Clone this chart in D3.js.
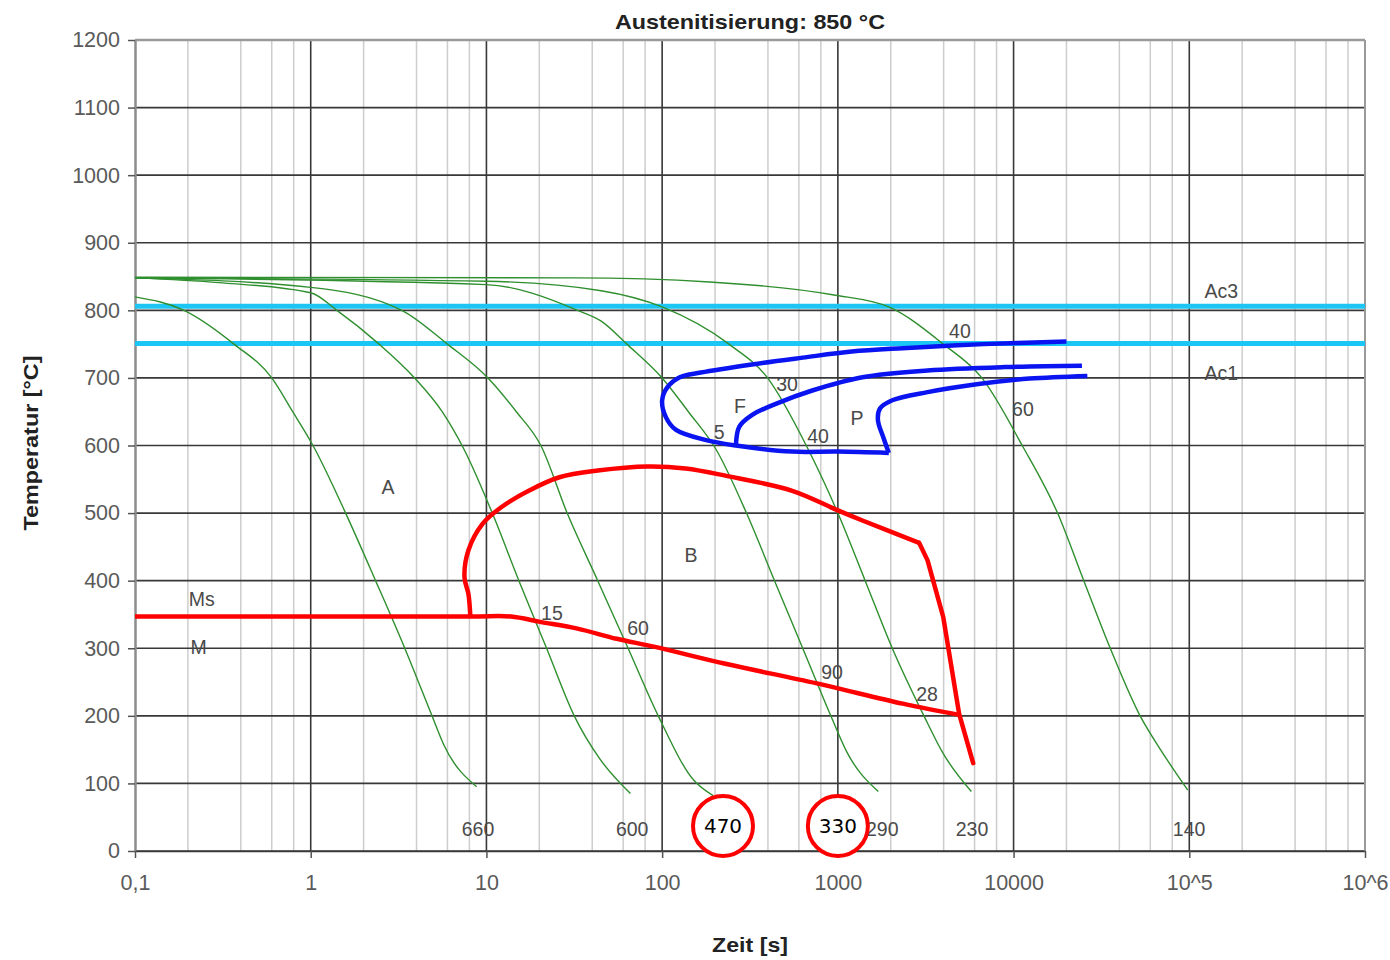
<!DOCTYPE html>
<html>
<head>
<meta charset="utf-8">
<script src="https://cdn.jsdelivr.net/npm/d3@7"></script>
<style>
  body { margin: 0; background: #fff; }
  svg { display: block; font-family: "Liberation Sans", Arial, sans-serif; }
</style>
</head>
<body>
<svg id="chart" width="1390" height="960"></svg>
<script>
// axis ticks
const yTicks = [0, 100, 200, 300, 400, 500, 600, 700, 800, 900, 1000, 1100, 1200];
const xTicks = [0.1, 1, 10, 100, 1000, 1e4, 1e5, 1e6];
const xTickLabels = ['0,1', '1', '10', '100', '1000', '10000', '10^5', '10^6'];

// transformation lines [°C]
const ac3 = 806;
const ac1 = 751;

// cooling curves: [time s, temperature °C]
const cool660 = [[0.1, 820], [0.19, 800], [0.366, 750], [0.6, 700], [0.79, 650], [1.03, 600], [1.58, 500],
  [2.34, 400], [3.43, 300], [4.9, 200], [5.7, 158], [8.8, 95]];
const cool600 = [[0.1, 848], [0.3, 841], [1, 826], [1.41, 800], [2.45, 750], [3.9, 700], [5.6, 650], [7.5, 593],
  [10.8, 500], [15.3, 400], [22, 300], [31.6, 200], [44, 137], [66, 85]];
const cool470 = [[0.1, 848], [1, 834], [3.3, 800], [6.0, 750], [10.2, 700], [14.8, 650], [20.4, 600], [28.8, 500],
  [43, 400], [64, 300], [95, 200], [151, 105], [195, 82]];
const cool290 = [[0.1, 848], [10, 838], [33, 800], [45, 784], [63, 750], [100, 700], [141, 650], [204, 593],
  [302, 500], [436, 400], [631, 300], [912, 200], [1122, 147], [1700, 88]];
const cool230 = [[0.1, 848], [10, 843], [45, 829], [100, 805], [240, 750], [398, 700], [661, 600], [1000, 500],
  [1430, 400], [2040, 300], [3090, 200], [3980, 144], [5750, 88]];
const cool140 = [[0.1, 849], [32, 848], [186, 842], [933, 823], [1950, 805], [3980, 750], [6600, 700], [11200, 600],
  [17800, 500], [25100, 400], [35500, 300], [52500, 200], [69000, 149], [98000, 90]];
const coolingCurves = [cool660, cool600, cool470, cool290, cool230, cool140];

// bainite region (red)
const bainiteNose = [[8.1, 347], [7.9, 380], [7.5, 405], [7.9, 445], [9.5, 484], [12.2, 509], [17.4, 533], [26, 553],
  [43, 563], [83, 569], [136, 566], [232, 555], [550, 533], [1000, 504], [1380, 489], [2900, 456]];
const bainiteEnd = [[2900, 456], [3240, 430], [3980, 346], [4900, 203], [5890, 130]];
const msLine = [[0.1, 347], [8.1, 347], [13.8, 347], [20.2, 339], [33, 329], [55, 314], [91, 302], [229, 277],
  [759, 248], [2340, 218], [5000, 201]];

// ferrite / pearlite region (blue)
const ferriteStart = [[20000, 754], [6760, 750], [2340, 744], [1200, 739], [631, 730], [324, 720], [166, 708],
  [126, 701], [107, 686], [100, 667], [105, 642], [120, 623], [178, 608], [263, 600], [550, 591], [1000, 591], [1950, 589]];
const pearliteStart = [[1950, 589], [1820, 611], [1690, 638], [1740, 655], [2040, 667], [3240, 679], [6310, 691],
  [12300, 699], [26300, 703]];
const ferriteInner = [[263, 601], [275, 628], [324, 645], [447, 662], [708, 681], [1380, 701], [3240, 711],
  [8900, 716], [24500, 718]];

// annotations: [time s, temperature °C, text]
const curveLabels = [[4950, 769, '40'], [514, 691, '30'], [277, 658, 'F'], [211, 620, '5'], [771, 614, '40'],
  [1285, 641, 'P'], [11300, 654, '60'], [2.75, 538, 'A'], [146, 438, 'B'], [0.24, 373, 'Ms'], [0.23, 302, 'M'],
  [23.6, 352, '15'], [73, 330, '60'], [927, 265, '90'], [3220, 232, '28'], [152000, 828, 'Ac3'], [152000, 707, 'Ac1']];
const hardnessLabels = [[8.95, 32, '660'], [67.5, 32, '600'], [1790, 32, '290'], [5800, 32, '230'], [99800, 32, '140']];
const circledLabels = [[222, 37, '470'], [1000, 37, '330']];

const svg = d3.select('#chart');
const x = d3.scaleLog().domain([0.1, 1e6]).range([135, 1365]);
const y = d3.scaleLinear().domain([0, 1200]).range([851, 40]);

/// grid
const minor = [];
[0.1, 1, 10, 100, 1000, 1e4, 1e5].forEach(d => [2, 4, 6, 8].forEach(m => minor.push(d * m)));
svg.append('g').selectAll('line').data(minor).join('line')
  .attr('x1', d => x(d)).attr('x2', d => x(d)).attr('y1', y(1200)).attr('y2', y(0))
  .attr('stroke', '#cdcdcd').attr('stroke-width', 1.5);
svg.append('g').selectAll('line').data(xTicks.slice(1, -1)).join('line')
  .attr('x1', d => x(d)).attr('x2', d => x(d)).attr('y1', y(1200)).attr('y2', y(0))
  .attr('stroke', '#383838').attr('stroke-width', 1.6);
svg.append('g').selectAll('line').data(yTicks.slice(0, -1)).join('line')
  .attr('x1', x(0.1)).attr('x2', x(1e6)).attr('y1', d => y(d)).attr('y2', d => y(d))
  .attr('stroke', '#383838').attr('stroke-width', 1.7);
// frame top / right
svg.append('line').attr('x1', x(0.1)).attr('x2', x(1e6)).attr('y1', y(1200)).attr('y2', y(1200))
  .attr('stroke', '#9a9a9a').attr('stroke-width', 2.5);
svg.append('line').attr('x1', x(1e6)).attr('x2', x(1e6)).attr('y1', y(1200)).attr('y2', y(0))
  .attr('stroke', '#9a9a9a').attr('stroke-width', 2);

/// axes
const yAxis = svg.append('g').attr('transform', `translate(${x(0.1)},0)`)
  .call(d3.axisLeft(y).tickValues(yTicks).tickSize(7).tickSizeOuter(0).tickPadding(8).tickFormat(d3.format('d')));
const xAxis = svg.append('g').attr('transform', `translate(0,${y(0)})`)
  .call(d3.axisBottom(x).tickValues(xTicks).tickSize(7).tickSizeOuter(0).tickPadding(17)
    .tickFormat((d, i) => xTickLabels[i]));
yAxis.select('.domain').attr('stroke', '#8c8c8c').attr('stroke-width', 2.5);
xAxis.select('.domain').attr('stroke', '#383838').attr('stroke-width', 1.7);
svg.selectAll('.tick line').attr('stroke', '#555').attr('stroke-width', 1.5);
svg.selectAll('.tick text').attr('font-size', 21.5).attr('fill', '#5a5a5a')
  .attr('font-family', '"Liberation Sans", Arial, sans-serif');

/// Ac3 / Ac1
svg.append('g').selectAll('line').data([ac3, ac1]).join('line')
  .attr('x1', x(0.1)).attr('x2', x(1e6)).attr('y1', d => y(d)).attr('y2', d => y(d))
  .attr('stroke', '#1cc6f4').attr('stroke-width', 5);

/// cooling curves
const smooth = d3.line().x(d => x(d[0])).y(d => y(d[1])).curve(d3.curveMonotoneX);
svg.append('g').selectAll('path').data(coolingCurves).join('path')
  .attr('d', smooth).attr('fill', 'none').attr('stroke', '#2f8f2f').attr('stroke-width', 1.4);

/// bainite + martensite lines
const round = d3.line().x(d => x(d[0])).y(d => y(d[1])).curve(d3.curveCatmullRom.alpha(0.5));
const straight = d3.line().x(d => x(d[0])).y(d => y(d[1]));
svg.append('path').attr('d', round(bainiteNose)).attr('fill', 'none')
  .attr('stroke', '#ff0000').attr('stroke-width', 4.5).attr('stroke-linejoin', 'round');
svg.append('path').attr('d', straight(bainiteEnd)).attr('fill', 'none')
  .attr('stroke', '#ff0000').attr('stroke-width', 4.5).attr('stroke-linejoin', 'round').attr('stroke-linecap', 'round');
svg.append('path').attr('d', round(msLine)).attr('fill', 'none')
  .attr('stroke', '#ff0000').attr('stroke-width', 4.5);

/// ferrite / pearlite
[ferriteStart, pearliteStart, ferriteInner].forEach(pts => {
  svg.append('path').attr('d', round(pts)).attr('fill', 'none')
    .attr('stroke', '#0a14f0').attr('stroke-width', 4.5).attr('stroke-linejoin', 'round');
});

/// labels
svg.append('g').selectAll('text').data(curveLabels.concat(hardnessLabels)).join('text')
  .attr('x', d => x(d[0])).attr('y', d => y(d[1]))
  .attr('text-anchor', 'middle').attr('dy', '0.36em')
  .attr('font-size', 19.5).attr('fill', '#4a4a4a')
  .text(d => d[2]);

const circ = svg.append('g').selectAll('g').data(circledLabels).join('g')
  .attr('transform', d => `translate(${x(d[0])},${y(d[1])})`);
circ.append('circle').attr('r', 30).attr('fill', '#fff').attr('stroke', '#ff0000').attr('stroke-width', 4);
circ.append('text').attr('text-anchor', 'middle').attr('dy', '0.36em')
  .attr('font-family', '"DejaVu Sans", sans-serif').attr('font-size', 20).attr('fill', '#000')
  .text(d => d[2]);

/// titles
svg.append('text').attr('x', 750).attr('y', 29).attr('text-anchor', 'middle')
  .attr('font-size', 21).attr('font-weight', 'bold').attr('fill', '#222')
  .attr('textLength', 270).attr('lengthAdjust', 'spacingAndGlyphs')
  .text('Austenitisierung: 850 °C');
svg.append('text').attr('transform', 'translate(38,443) rotate(-90)').attr('text-anchor', 'middle')
  .attr('font-size', 20).attr('font-weight', 'bold').attr('fill', '#222')
  .attr('textLength', 175).attr('lengthAdjust', 'spacingAndGlyphs')
  .text('Temperatur [°C]');
svg.append('text').attr('x', 750).attr('y', 952).attr('text-anchor', 'middle')
  .attr('font-size', 21).attr('font-weight', 'bold').attr('fill', '#222')
  .attr('textLength', 76).attr('lengthAdjust', 'spacingAndGlyphs')
  .text('Zeit [s]');
</script>
</body>
</html>
